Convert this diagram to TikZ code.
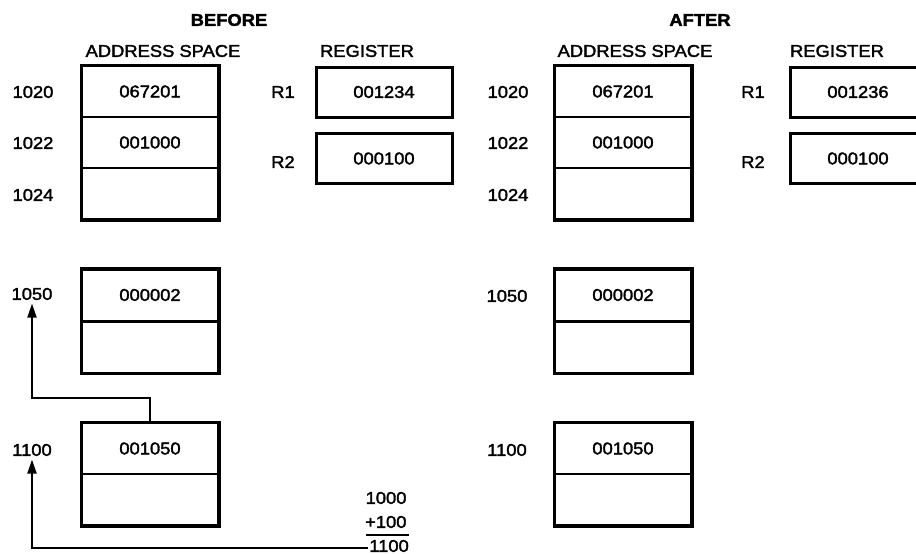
\documentclass[tikz,border=0pt]{standalone}
\usepackage{fontspec}
\setmainfont{Liberation Sans}[FakeStretch=1.08, FakeBold=2]
\usetikzlibrary{arrows.meta}

\begin{document}
\begin{tikzpicture}[
  x=1pt, y=-1pt,
  font=\fontsize{17}{20}\selectfont,
  cell/.style={
    draw, line width=2pt, inner sep=0pt,
    minimum width=136pt, minimum height=51pt,
  },
  reg/.style={cell, line width=3pt, minimum height=50pt},
  frame/.style={draw, line width=3pt},
  head/.style={font=\fontsize{17}{20}\selectfont\bfseries},
  flow/.style={-{Triangle[length=14pt, width=9pt]}, line width=2pt},
]
\clip (0,0) rectangle (916,554);

% ---- Headings --------------------------------------------------------------
\node[head] (before) at (229, 20) {BEFORE};
\node (asl)  at (163, 51) {ADDRESS SPACE};
\node (rgl)  at (367, 51) {REGISTER};
\node[head] (after)  at (700, 20) {AFTER};
\node (asr)  at (635, 51) {ADDRESS SPACE};
\node (rgr)  at (837, 51) {REGISTER};

% ---- Before: address space -------------------------------------------------
\node[cell] (b1020) at (150,  91.5) {067201};
\node[cell] (b1022) at (150, 142.5) {001000};
\node[cell] (b1024) at (150, 193.5) {};
\draw[frame] (b1020.north west) rectangle (b1024.south east);
\node[cell] (b1050) at (150, 295) {000002};
\node[cell] (b1052) at (150, 347) {};
\draw[frame] (b1050.north west) rectangle (b1052.south east);
\node[cell] (b1100) at (150, 448.5) {001050};
\node[cell] (b1102) at (150, 499.5) {};
\draw[frame] (b1100.north west) rectangle (b1102.south east);

\node (la1020) at (33,  92) {1020};
\node (la1022) at (33, 143) {1022};
\node (la1024) at (33, 195) {1024};
\node (la1050) at (32, 294) {1050};
\node (la1100) at (32, 450) {1100};

% ---- Before: registers -----------------------------------------------------
\node[reg] (br1) at (384,  92) {001234};
\node[reg] (br2) at (384, 158.5) {000100};
\node (lbr1) at (283,  92) {R1};
\node (lbr2) at (283, 162) {R2};

% ---- Address arithmetic ------------------------------------------------------
\node[anchor=east] (sum1) at (410, 498) {1000};
\node[anchor=east] (sum2) at (410, 522) {+100};
\node[anchor=east, inner sep=1pt] (sum3) at (410, 546) {1100};
\draw[line width=1.5pt] (366, 535) -- (409, 535);

% ---- Pointers ----------------------------------------------------------------
\draw[flow] (b1100.north) -- ++(0, -24) -| (la1050.south);
\draw[flow] (sum3.west |- 0, 548) -| (la1100.south);

% ---- After: address space --------------------------------------------------
\node[cell] (a1020) at (623,  91.5) {067201};
\node[cell] (a1022) at (623, 142.5) {001000};
\node[cell] (a1024) at (623, 193.5) {};
\draw[frame] (a1020.north west) rectangle (a1024.south east);
\node[cell] (a1050) at (623, 295) {000002};
\node[cell] (a1052) at (623, 347) {};
\draw[frame] (a1050.north west) rectangle (a1052.south east);
\node[cell] (a1100) at (623, 448.5) {001050};
\node[cell] (a1102) at (623, 499.5) {};
\draw[frame] (a1100.north west) rectangle (a1102.south east);

\node (ra1020) at (508,  92) {1020};
\node (ra1022) at (508, 143) {1022};
\node (ra1024) at (508, 195) {1024};
\node (ra1050) at (507, 296) {1050};
\node (ra1100) at (507, 450) {1100};

% ---- After: registers ------------------------------------------------------
\node[reg] (ar1) at (858,  92) {001236};
\node[reg] (ar2) at (858, 158.5) {000100};
\node (lar1) at (753,  92) {R1};
\node (lar2) at (753, 162) {R2};

\end{tikzpicture}
\end{document}
